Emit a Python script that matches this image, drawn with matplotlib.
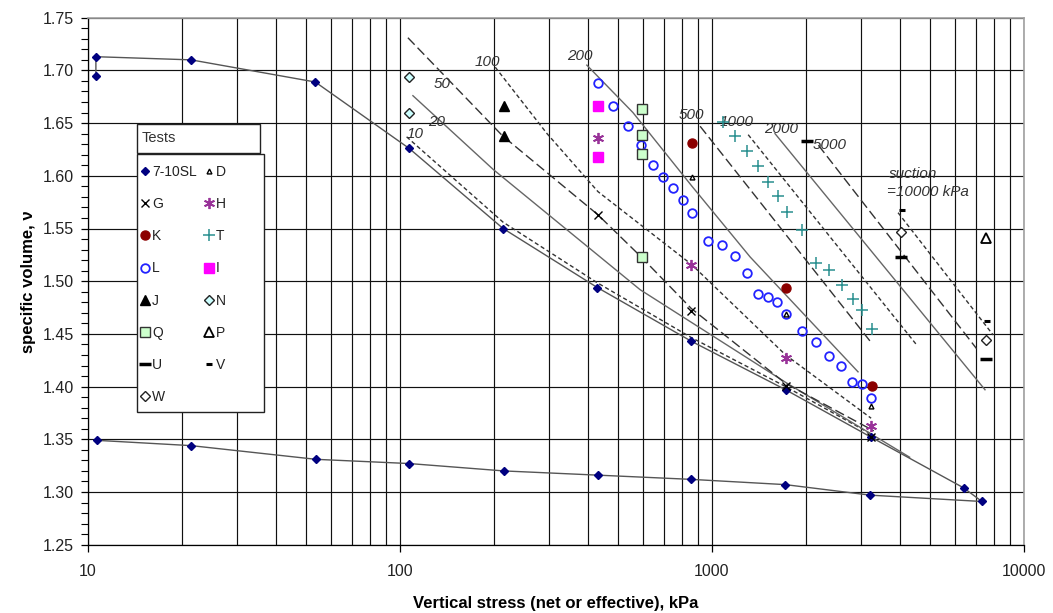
import matplotlib
matplotlib.use("Agg")
import matplotlib.pyplot as plt
from matplotlib.patches import Rectangle
from matplotlib.ticker import FixedLocator, NullFormatter, FixedFormatter

plt.rcParams['font.family'] = ['Liberation Sans', 'DejaVu Sans']

# ---------------- data ----------------
# Test 7-10SL (loading then unloading)
sl_x = [10.6, 10.6, 21.4, 53.5, 107, 214, 429, 859, 1722, 3236, 6400, 7330,
        3218, 1718, 856, 430, 215, 107, 53.8, 21.4, 10.7]
sl_v = [1.695, 1.713, 1.710, 1.689, 1.626, 1.550, 1.494, 1.443, 1.397, 1.352,
        1.304, 1.291, 1.297, 1.307, 1.312, 1.316, 1.320, 1.327, 1.331, 1.344, 1.349]

D_x = [861, 1722, 3227]
D_v = [1.599, 1.469, 1.382]
G_x = [431, 859, 1722, 3236]
G_v = [1.563, 1.472, 1.401, 1.352]
H_x = [431, 859, 1722, 3236]
H_v = [1.636, 1.515, 1.427, 1.363]
K_x = [861, 1722, 3254]
K_v = [1.631, 1.494, 1.401]
T_x = [1081, 1185, 1291, 1401, 1515, 1624, 1735, 1939, 2154, 2376, 2604, 2825, 3033, 3250]
T_v = [1.651, 1.638, 1.624, 1.609, 1.594, 1.581, 1.566, 1.549, 1.517, 1.511,
       1.496, 1.483, 1.473, 1.455]
L_x = [430, 483, 538, 591, 646, 698, 752, 807, 861, 968, 1074, 1185, 1291,
       1401, 1508, 1620, 1722, 1947, 2154, 2376, 2597, 2811, 3026, 3245]
L_v = [1.688, 1.666, 1.647, 1.629, 1.610, 1.599, 1.588, 1.577, 1.565, 1.538,
       1.534, 1.524, 1.508, 1.488, 1.485, 1.480, 1.469, 1.453, 1.442, 1.429,
       1.420, 1.404, 1.402, 1.389]
I_x = [431, 431]
I_v = [1.666, 1.618]
J_x = [215, 215]
J_v = [1.666, 1.638]
N_x = [107, 107]
N_v = [1.694, 1.660]
Q_x = [595, 595, 595, 595]
Q_v = [1.663, 1.639, 1.621, 1.523]
P_x = [7550]
P_v = [1.541]
U_x = [2012, 4027, 7550]
U_v = [1.633, 1.523, 1.426]
V_x = [4050, 7600]
V_v = [1.568, 1.462]
W_x = [4027, 7550]
W_v = [1.547, 1.444]

# constant-suction lines (suction in kPa)
s10_x = [105, 214, 429, 859, 1722, 3236]
s10_v = [1.637, 1.556, 1.4985, 1.4465, 1.400, 1.355]
s20_x = [110, 199, 588, 1722, 4300]
s20_v = [1.676, 1.606, 1.492, 1.404, 1.333]
s50_x = [106, 213, 431, 593, 859, 1722, 3300]
s50_v = [1.731, 1.638, 1.563, 1.523, 1.474, 1.403, 1.358]
s100_x = [202, 296, 431, 859, 1722, 3236]
s100_v = [1.703, 1.640, 1.585, 1.516, 1.430, 1.370]
s200_x = [397, 558, 863, 1325, 2938]
s200_v = [1.705, 1.660, 1.590, 1.523, 1.414]
s500_x = [916, 3254]
s500_v = [1.647, 1.441]
s1000_x = [1306, 4530]
s1000_v = [1.639, 1.4395]
s2000_x = [1592, 7500]
s2000_v = [1.640, 1.397]
s5000_x = [2193, 7047]
s5000_v = [1.629, 1.436]
s10000_x = [3948, 7962]
s10000_v = [1.565, 1.449]

suction_labels = ["10", "20", "50", "100", "200", "500", "1000", "2000", "5000"]
label_x = [112, 131, 136, 191, 378, 857, 1202, 1663, 2388]
label_v = [1.640, 1.651, 1.687, 1.708, 1.714, 1.658, 1.651, 1.6445, 1.629]

x_ticks = [10, 100, 1000, 10000]
x_ticklabels = ["10", "100", "1000", "10000"]
y_ticks = [1.25, 1.30, 1.35, 1.40, 1.45, 1.50, 1.55, 1.60, 1.65, 1.70, 1.75]

# ---------------- figure ----------------
fig = plt.figure(figsize=(10.53, 6.13), dpi=100)
ax = fig.add_axes([88 / 1053, 1 - 544.7 / 613, (1024 - 88) / 1053, (544.7 - 17.7) / 613])
ax.set_xscale('log')
ax.set_xlim(10, 10000)
ax.set_ylim(1.25, 1.75)

# grid
minor_x = [m * 10 ** e for e in (1, 2, 3) for m in range(2, 10)]
for xv in x_ticks + minor_x:
    ax.axvline(xv, color='#111111', lw=0.85, zorder=0.5)
for yv in y_ticks:
    ax.axhline(yv, color='#111111', lw=0.85, zorder=0.5)

ax.xaxis.set_major_locator(FixedLocator(x_ticks))
ax.xaxis.set_major_formatter(FixedFormatter(x_ticklabels))
ax.xaxis.set_minor_locator(FixedLocator([]))
ax.xaxis.set_minor_formatter(NullFormatter())
ax.yaxis.set_major_locator(FixedLocator(y_ticks))
ax.yaxis.set_major_formatter(FixedFormatter(["%.2f" % v for v in y_ticks]))
ax.yaxis.set_minor_locator(FixedLocator([round(1.25 + 0.01 * i, 2) for i in range(51)]))
ax.tick_params(axis='both', which='major', direction='out', length=5, width=0.9,
               labelsize=11.5, colors='#000000', labelcolor='#222222')
ax.tick_params(axis='x', which='major', pad=9)
ax.tick_params(axis='y', which='major', pad=5)
ax.tick_params(axis='y', which='minor', direction='out', length=5, width=0.8)

for side in ('top', 'right'):
    ax.spines[side].set_color('#a0a0a0')
    ax.spines[side].set_linewidth(1.2)
for side in ('left', 'bottom'):
    ax.spines[side].set_color('#000000')
    ax.spines[side].set_linewidth(0.9)

# suction lines
short = (0, (3, 2))
long_ = (0, (7, 3))
line_specs = [
    (s10_x, s10_v, short, '#333333'),
    (s20_x, s20_v, '-', '#666666'),
    (s50_x, s50_v, long_, '#333333'),
    (s100_x, s100_v, short, '#333333'),
    (s200_x, s200_v, '-', '#666666'),
    (s500_x, s500_v, long_, '#333333'),
    (s1000_x, s1000_v, short, '#333333'),
    (s2000_x, s2000_v, '-', '#666666'),
    (s5000_x, s5000_v, long_, '#333333'),
    (s10000_x, s10000_v, short, '#333333'),
]
for xs, vs, ls, c in line_specs:
    ax.plot(xs, vs, linestyle=ls, color=c, lw=1.0, zorder=2)

for t, xv, yv in zip(suction_labels, label_x, label_v):
    ax.text(xv, yv, t, style='italic', fontsize=11, color='#333333',
            ha='center', va='center', zorder=3)
ax.text(4405, 1.6017, "suction", style='italic', fontsize=11, color='#333333',
        ha='center', va='center', zorder=3)
ax.text(4920, 1.5847, "=10000 kPa", style='italic', fontsize=11, color='#333333',
        ha='center', va='center', zorder=3)

# 7-10SL line
ax.plot(sl_x, sl_v, color='#555555', lw=1.0, zorder=2.5)

h = {}
h['7-10SL'], = ax.plot(sl_x, sl_v, ls='none', marker='D', ms=4.2, color='#000080', zorder=5)
h['D'], = ax.plot(D_x, D_v, ls='none', marker='^', ms=3.5, mfc='white', mec='black', mew=1.0, zorder=6)
h['G'], = ax.plot(G_x, G_v, ls='none', marker='x', ms=6, color='black', mew=1.0, zorder=5)
h['H'], = ax.plot(H_x, H_v, ls='none', marker=(6, 2, 0), ms=8, color='#993399', mew=1.3, zorder=5)
h['K'], = ax.plot(K_x, K_v, ls='none', marker='o', ms=6.5, color='#8b0000', zorder=5)
h['T'], = ax.plot(T_x, T_v, ls='none', marker='+', ms=8, color='#2a9090', mew=1.1, zorder=5)
h['L'], = ax.plot(L_x, L_v, ls='none', marker='o', ms=6.2, mfc='none', mec='#2222ff', mew=1.3, zorder=5)
h['I'], = ax.plot(I_x, I_v, ls='none', marker='s', ms=6.5, color='#ff00ff', zorder=5)
h['J'], = ax.plot(J_x, J_v, ls='none', marker='^', ms=6.5, color='black', zorder=5)
h['N'], = ax.plot(N_x, N_v, ls='none', marker='D', ms=4.8, mfc='#ccffff', mec='#222222', mew=1.0, zorder=5)
h['Q'], = ax.plot(Q_x, Q_v, ls='none', marker='s', ms=6.5, mfc='#ccffcc', mec='#333333', mew=1.0, zorder=5)
h['P'], = ax.plot(P_x, P_v, ls='none', marker='^', ms=6.5, mfc='white', mec='black', mew=1.3, zorder=5)
h['U'], = ax.plot(U_x, U_v, ls='none', marker='_', ms=8, color='black', mew=2.5, zorder=5)
h['V'], = ax.plot(V_x, V_v, ls='none', marker='_', ms=5, color='black', mew=2.2, zorder=5)
h['W'], = ax.plot(W_x, W_v, ls='none', marker='D', ms=4.8, mfc='white', mec='#222222', mew=1.0, zorder=5)

# legend frame and title box (Excel-style)
ax.add_patch(Rectangle(((136.7 - 88) / 936, (544.7 - 412.3) / 527),
                       (264.3 - 136.7) / 936, (412.3 - 154.3) / 527,
                       transform=ax.transAxes, facecolor='white', edgecolor='#222222',
                       lw=1.0, zorder=9))
ax.add_patch(Rectangle(((137.3 - 88) / 936, (544.7 - 153.3) / 527),
                       (260 - 137.3) / 936, (153.3 - 124) / 527,
                       transform=ax.transAxes, facecolor='white', edgecolor='#222222',
                       lw=1.0, zorder=10))
ax.text((142 - 88) / 936, (544.7 - 138.5) / 527, "Tests", transform=ax.transAxes,
        fontsize=10.5, color='#333333', ha='left', va='center', zorder=11)

order = ['7-10SL', 'G', 'K', 'L', 'J', 'Q', 'U', 'W', 'D', 'H', 'T', 'I', 'N', 'P', 'V']
leg = ax.legend([h[k] for k in order], order, ncol=2, loc='upper left',
                bbox_to_anchor=((141 - 88) / 936, (544.7 - 164.8) / 527),
                fontsize=10, frameon=False, borderpad=0,
                labelspacing=1.31, handlelength=0.6, handletextpad=0.2,
                columnspacing=0.55, borderaxespad=0)
for t in leg.get_texts():
    t.set_color('#222222')
leg.set_zorder(12)

ax.set_xlabel("Vertical stress (net or effective), kPa", fontsize=12, fontweight='bold',
              labelpad=12)
ax.set_ylabel("specific volume, ν", fontsize=12, fontweight='bold', labelpad=5)

fig.savefig("out.png", dpi=100)
